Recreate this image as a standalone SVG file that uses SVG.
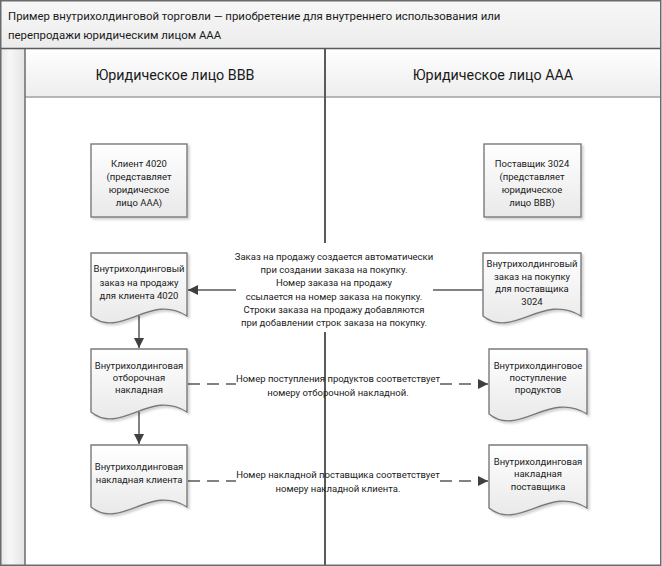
<svg xmlns="http://www.w3.org/2000/svg" width="662" height="566" viewBox="0 0 662 566">
<defs>
<linearGradient id="gNode" x1="0" y1="0" x2="0" y2="1"><stop offset="0" stop-color="#ffffff"/><stop offset="1" stop-color="#e9e9e9"/></linearGradient>
<linearGradient id="gTitle" x1="0" y1="0" x2="0" y2="1"><stop offset="0" stop-color="#f7f7f7"/><stop offset="1" stop-color="#ececec"/></linearGradient>
<linearGradient id="gHead" x1="0" y1="0" x2="0" y2="1"><stop offset="0" stop-color="#ffffff"/><stop offset="1" stop-color="#ededed"/></linearGradient>
<linearGradient id="gStrip" x1="0" y1="0" x2="1" y2="0"><stop offset="0" stop-color="#e6e6e6"/><stop offset="0.4" stop-color="#f7f7f7"/><stop offset="1" stop-color="#e4e4e4"/></linearGradient>
<filter id="sh" x="-10%" y="-10%" width="130%" height="130%"><feDropShadow dx="2" dy="2" stdDeviation="1.2" flood-color="#000" flood-opacity="0.18"/></filter>
<marker id="arr" viewBox="0 0 10 10" refX="10" refY="5" markerWidth="10" markerHeight="10" markerUnits="userSpaceOnUse" orient="auto"><path d="M0,0 L10,5 L0,10 Z" fill="#3f3f3f"/></marker>
</defs>
<style>
.t{font-family:Roboto,"Open Sans","DejaVu Sans",sans-serif;font-size:9.5px;fill:#1a1a1a;text-anchor:middle}
.title{font-family:Roboto,"Open Sans","DejaVu Sans",sans-serif;font-size:11.4px;fill:#1a1a1a}
.hd{font-family:Roboto,"Open Sans","DejaVu Sans",sans-serif;font-size:14.3px;fill:#1a1a1a;text-anchor:middle}
.node{fill:url(#gNode);stroke:#7a7a7a;stroke-width:1.4;filter:url(#sh)}
.c{fill:none;stroke:#595959;stroke-width:1.5}
.d{fill:none;stroke:#595959;stroke-width:1.5;stroke-dasharray:12 7}
</style>
<g id="frame">
<rect x="0" y="0" width="662" height="566" fill="#ffffff"/>
<rect x="0.5" y="0.5" width="660" height="48" fill="url(#gTitle)"/>
<rect x="0" y="49" width="25" height="517" fill="url(#gStrip)"/>
<rect x="25" y="49" width="636" height="48" fill="url(#gHead)"/>
<line x1="25" y1="97" x2="661" y2="97" stroke="#a0a0a0" stroke-width="1.5"/>
<line x1="25" y1="49" x2="25" y2="566" stroke="#6b6b6b" stroke-width="1.5"/>
<line x1="325" y1="49" x2="325" y2="566" stroke="#5a5a5a" stroke-width="2"/>
<line x1="0" y1="48.5" x2="661" y2="48.5" stroke="#5a5a5a" stroke-width="1.5"/>
<rect x="0.75" y="0.75" width="660" height="564.5" fill="none" stroke="#6b6b6b" stroke-width="1.5"/>
<text class="title" x="8" y="20">Пример внутрихолдинговой торговли — приобретение для внутреннего использования или</text>
<text class="title" x="8" y="39">перепродажи юридическим лицом AAA</text>
<text class="hd" x="175" y="80">Юридическое лицо BBB</text>
<text class="hd" x="493" y="80">Юридическое лицо AAA</text>
</g>
<g id="connectors">
<rect x="233" y="243" width="203" height="89" fill="#ffffff"/>
<line class="c" x1="483" y1="290" x2="433" y2="290"/>
<line class="c" x1="236" y1="290" x2="188" y2="290" marker-end="url(#arr)"/>
<line class="c" x1="139" y1="316" x2="139" y2="348" marker-end="url(#arr)"/>
<line class="c" x1="139" y1="412" x2="139" y2="444" marker-end="url(#arr)"/>
<line class="d" x1="188" y1="384" x2="236" y2="384"/>
<path class="d" d="M440,384 H488" marker-end="url(#arr)"/>
<line class="d" x1="188" y1="481" x2="236" y2="481"/>
<path class="d" d="M440,481 H488" marker-end="url(#arr)"/>
<text class="t" x="334" y="260">Заказ на продажу создается автоматически</text>
<text class="t" x="334" y="273.2">при создании заказа на покупку.</text>
<text class="t" x="334" y="286.4">Номер заказа на продажу</text>
<text class="t" x="334" y="299.6">ссылается на номер заказа на покупку.</text>
<text class="t" x="334" y="312.8">Строки заказа на продажу добавляются</text>
<text class="t" x="334" y="326">при добавлении строк заказа на покупку.</text>
<text class="t" x="338" y="382">Номер поступления продуктов соответствует</text>
<text class="t" x="338" y="396">номеру отборочной накладной.</text>
<text class="t" x="338" y="478">Номер накладной поставщика соответствует</text>
<text class="t" x="338" y="492">номеру накладной клиента.</text>
</g>
<g id="client4020">
<rect class="node" x="91" y="144" width="96" height="73"/>
<text class="t" x="139" y="167">Клиент 4020</text>
<text class="t" x="139" y="180">(представляет</text>
<text class="t" x="139" y="193">юридическое</text>
<text class="t" x="139" y="206">лицо AAA)</text>
</g>
<g id="vendor3024">
<rect class="node" x="484" y="144" width="97" height="73"/>
<text class="t" x="532" y="167">Поставщик 3024</text>
<text class="t" x="532" y="180">(представляет</text>
<text class="t" x="532" y="193">юридическое</text>
<text class="t" x="532" y="206">лицо BBB)</text>
</g>
<g id="salesOrder">
<path class="node" d="M91,253 H187 V316 C150,292 121,340 91,316 Z"/>
<text class="t" x="139" y="272">Внутрихолдинговый</text>
<text class="t" x="139" y="286">заказ на продажу</text>
<text class="t" x="139" y="299">для клиента 4020</text>
</g>
<g id="purchaseOrder">
<path class="node" d="M483,253 H581 V316 C543,292 513,340 483,316 Z"/>
<text class="t" x="532" y="267">Внутрихолдинговый</text>
<text class="t" x="532" y="279.5">заказ на покупку</text>
<text class="t" x="532" y="292">для поставщика</text>
<text class="t" x="532" y="304.5">3024</text>
</g>
<g id="pickingList">
<path class="node" d="M91,349 H187 V412 C150,388 121,436 91,412 Z"/>
<text class="t" x="139" y="369">Внутрихолдинговая</text>
<text class="t" x="139" y="381">отборочная</text>
<text class="t" x="139" y="393">накладная</text>
</g>
<g id="productReceipt">
<path class="node" d="M489,349 H587 V414 C549,390 519,438 489,414 Z"/>
<text class="t" x="538" y="369">Внутрихолдинговое</text>
<text class="t" x="538" y="381">поступление</text>
<text class="t" x="538" y="393">продуктов</text>
</g>
<g id="customerInvoice">
<path class="node" d="M91,445 H187 V507 C150,483 121,531 91,507 Z"/>
<text class="t" x="139" y="470">Внутрихолдинговая</text>
<text class="t" x="139" y="483">накладная клиента</text>
</g>
<g id="vendorInvoice">
<path class="node" d="M489,445 H587 V508 C549,484 519,532 489,508 Z"/>
<text class="t" x="538" y="465">Внутрихолдинговая</text>
<text class="t" x="538" y="477">накладная</text>
<text class="t" x="538" y="490">поставщика</text>
</g>
</svg>
